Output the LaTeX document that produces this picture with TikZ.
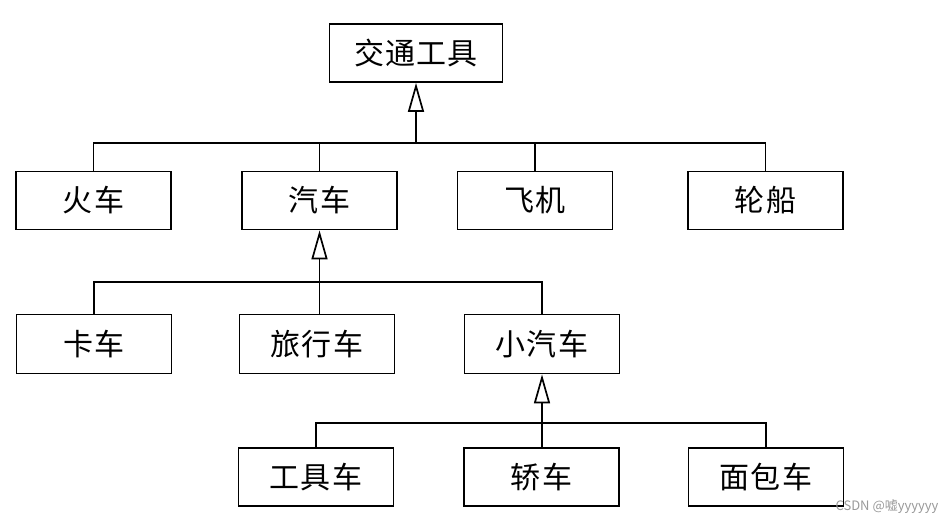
\documentclass[tikz,border=0pt]{standalone}
\usepackage{fontspec}
\newfontfamily\cjk[LetterSpace=4]{Noto Sans CJK SC}
\newfontfamily\cjkplain{Noto Sans CJK SC}
\usetikzlibrary{arrows.meta}
\begin{document}
\begin{tikzpicture}[x=1pt,y=-1pt,
  box/.style={draw=black, line width=1.8pt, minimum width=155pt, minimum height=58pt,
    inner sep=0pt, font=\cjk\fontsize{30}{30}\selectfont},
  link/.style={line width=1.7pt},
  inh/.style={line width=1.7pt, -{Triangle[open, length=29pt, width=16pt, line width=1.7pt]}},
  wmark/.style={font=\cjkplain\fontsize{13}{13}\selectfont, text=black!40}]
\useasboundingbox (0,0) rectangle (948,524);
% nodes
\node[box, minimum width=173pt] (top) at (416,53) {交通工具};
\node[box] (huoche) at (93.5,200.5) {火车};
\node[box] (qiche) at (319.5,200.5) {汽车};
\node[box] (feiji) at (535,200.5) {飞机};
\node[box] (lunchuan) at (765.5,200.5) {轮船};
\node[box, minimum height=59pt] (kache) at (94,344) {卡车};
\node[box, minimum height=59pt] (lvxing) at (317,344) {旅行车};
\node[box, minimum height=59pt] (xiao) at (542,344) {小汽车};
\node[box] (gongju) at (316,477) {工具车};
\node[box] (jiao) at (541.5,477) {轿车};
\node[box] (mianbao) at (766,477) {面包车};
\node[wmark, anchor=east] (wm) at (942,507) {CSDN @嘘yyyyyy};
% bus coordinates
\coordinate (b1) at (top.south |- 0,143);
\coordinate (b2) at (qiche.south |- 0,282);
\coordinate (b3) at (xiao.south |- 0,423);
% level 1
\draw[inh] (b1) -- (top.south);
\draw[link] (huoche.north) |- (b1) -| (lunchuan.north);
\draw[link] (qiche.north) -- (qiche.north |- b1);
\draw[link] (feiji.north) -- (feiji.north |- b1);
% level 2
\draw[inh] (b2) -- (qiche.south);
\draw[link] (kache.north) |- (b2) -| (xiao.north);
\draw[link] (b2) -- (lvxing.north -| b2);
% level 3
\draw[inh] (b3) -- (xiao.south);
\draw[link] (gongju.north) |- (b3) -| (mianbao.north);
\draw[link] (b3) -- (jiao.north -| b3);
\end{tikzpicture}
\end{document}
